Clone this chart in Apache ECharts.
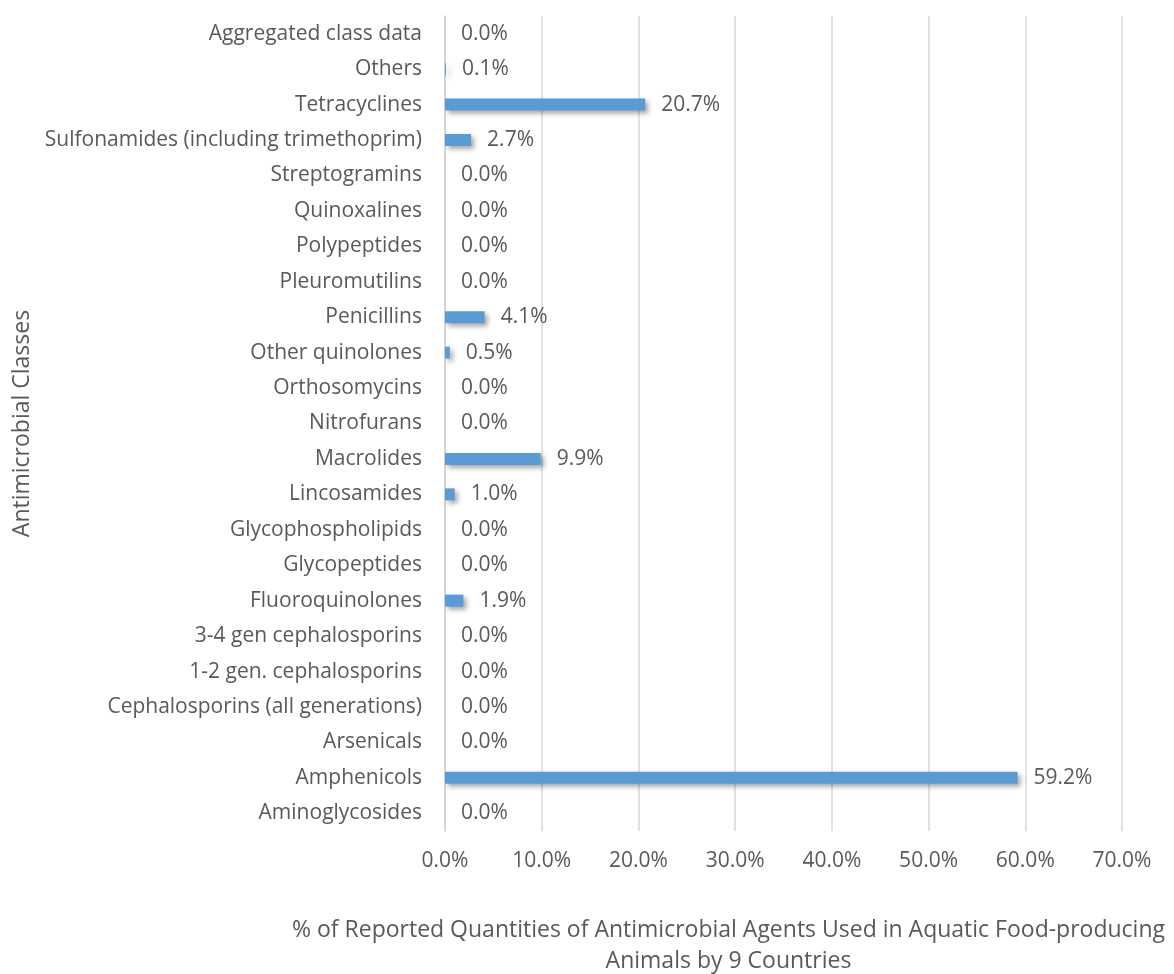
<!DOCTYPE html>
<html>
<head>
<meta charset="utf-8">
<script src="https://cdn.jsdelivr.net/npm/echarts@6/dist/echarts.min.js"></script>
<style>
  html, body { margin: 0; padding: 0; background: #fff; }
  #chart { width: 1174px; height: 974px; }
</style>
</head>
<body>
<div id="chart"></div>
<script>
//  Data (bottom to top)

var classes = [
  'Aminoglycosides', 'Amphenicols', 'Arsenicals', 'Cephalosporins (all generations)',
  '1-2 gen. cephalosporins', '3-4 gen cephalosporins', 'Fluoroquinolones', 'Glycopeptides',
  'Glycophospholipids', 'Lincosamides', 'Macrolides', 'Nitrofurans', 'Orthosomycins',
  'Other quinolones', 'Penicillins', 'Pleuromutilins', 'Polypeptides', 'Quinoxalines',
  'Streptogramins', 'Sulfonamides (including trimethoprim)', 'Tetracyclines', 'Others',
  'Aggregated class data'
];
var shares = [
  0.0, 59.2, 0.0, 0.0,
  0.0, 0.0, 1.9, 0.0,
  0.0, 1.0, 9.9, 0.0, 0.0,
  0.5, 4.1, 0.0, 0.0, 0.0,
  0.0, 2.7, 20.7, 0.1,
  0.0
];
var xMax = 70;
var xStep = 10;

//  Chart

var textColor = '#595959';
var font = 'Open Sans';

var myChart = echarts.init(document.getElementById('chart'), null, {renderer: 'canvas'});
var option = {
  animation: false,
  grid: {
    left: 445,
    right: 52,
    top: 16,
    bottom: 143,
    containLabel: false,
    outerBoundsMode: 'none'
  },
  xAxis: {
    type: 'value',
    min: 0,
    max: xMax,
    interval: xStep,
    name: '% of Reported Quantities of Antimicrobial Agents Used in Aquatic Food-producing\nAnimals by 9 Countries',
    nameLocation: 'middle',
    nameGap: 84,
    nameTextStyle: {
      color: textColor,
      fontFamily: font,
      fontSize: 23,
      lineHeight: 31,
      padding: [0, 110, 0, 0]
    },
    axisLine: { show: false },
    axisTick: { show: false },
    axisLabel: {
      color: textColor,
      fontFamily: font,
      fontSize: 21,
      margin: 20,
      formatter: function(v) { return v.toFixed(1) + '%'; }
    },
    splitLine: {
      lineStyle: { color: '#d9d9d9', width: 1.5 }
    }
  },
  yAxis: {
    type: 'category',
    data: classes,
    name: 'Antimicrobial Classes',
    nameLocation: 'middle',
    nameGap: 411,
    nameTextStyle: {
      color: textColor,
      fontFamily: font,
      fontSize: 23
    },
    axisLine: {
      show: true,
      lineStyle: { color: '#d0d0d0', width: 1.5 }
    },
    axisTick: { show: false },
    axisLabel: {
      color: textColor,
      fontFamily: font,
      fontSize: 21,
      margin: 23
    }
  },
  series: [{
    name: 'share',
    type: 'bar',
    data: shares,
    barWidth: 12,
    itemStyle: {
      color: '#5b9bd5',
      shadowColor: 'rgba(0,0,0,0.35)',
      shadowBlur: 5,
      shadowOffsetX: 3,
      shadowOffsetY: 3
    },
    label: {
      show: true,
      position: 'right',
      distance: 16,
      color: textColor,
      fontFamily: font,
      fontSize: 21,
      formatter: function(p) { return p.value.toFixed(1) + '%'; }
    }
  }]
};
myChart.setOption(option);
</script>
</body>
</html>
